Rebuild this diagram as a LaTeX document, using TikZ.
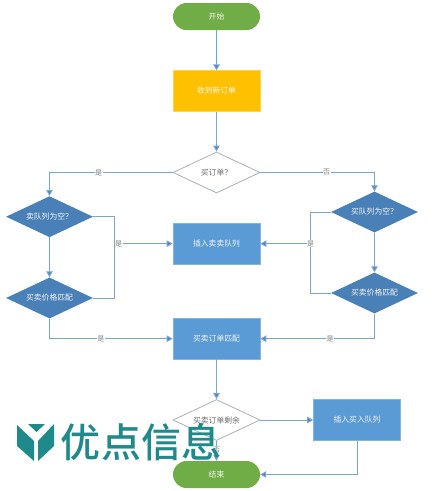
\documentclass[tikz,border=0pt]{standalone}
\usepackage{fontspec}
\setmainfont{Noto Sans CJK SC}
\newfontfamily\wmfont{Noto Sans CJK SC Medium}
\usetikzlibrary{shapes.geometric,shapes.misc,arrows.meta}
\definecolor{linec}{HTML}{7BA5D2}
\definecolor{boxc}{HTML}{5B9BD5}
\definecolor{darkd}{HTML}{4A80B8}
\definecolor{greenc}{HTML}{70AD47}
\definecolor{yellowc}{HTML}{FFC000}
\definecolor{teal}{HTML}{1F8A8C}
\definecolor{greyl}{HTML}{A9B0B5}
\tikzset{
  x=1pt,y=-1pt,
  txt/.style={font=\fontsize{7.8}{10}\selectfont,text=white!92!gray,inner sep=0pt},
  pill/.style={txt,rounded rectangle,fill=greenc,minimum width=87pt,minimum height=27pt},
  boxn/.style={txt,rectangle,fill=boxc,draw=boxc!75!white,line width=.6pt,minimum width=87pt,minimum height=40.5pt},
  yellown/.style={boxn,fill=yellowc,draw=yellowc!70!white},
  dd/.style={txt,diamond,fill=darkd,aspect=2.12,minimum width=87pt,minimum height=41pt},
  wd/.style={txt,diamond,fill=white,draw=greyl,line width=.8pt,text=gray!85!black,aspect=2.12,minimum width=87pt,minimum height=41pt},
  conn/.style={draw=linec,line width=1pt},
  arr/.style={conn,-{Triangle[length=6pt,width=6.5pt,fill=boxc!85!black]}},
  lab/.style={font=\fontsize{7}{9}\selectfont,text=gray,fill=white,inner sep=.5pt},
  wm/.style={font=\fontsize{40}{40}\wmfont,text=teal,inner sep=0pt}
}
\begin{document}
\begin{tikzpicture}
\useasboundingbox (0,0) rectangle (442,491);
\node[pill] (start) at (216.5,16.5) {开始};
\node[yellown] (recv) at (216.5,91) {收到新订单};
\node[wd] (isbuy) at (216.5,172.5) {买订单？};
\node[dd] (l1) at (49.5,216.7) {卖队列为空？};
\node[dd] (l2) at (49.5,298) {买卖价格匹配};
\node[dd] (r1) at (374.5,212) {买队列为空？};
\node[dd] (r2) at (374.5,293) {买卖价格匹配};
\node[boxn] (ins) at (216.5,243.7) {插入卖卖队列};
\node[boxn] (match) at (216.5,338.7) {买卖订单匹配};
\node[wd] (rem) at (216.5,420) {买卖订单剩余};
\node[boxn] (insb) at (357,420) {插入买入队列};
\node[pill] (stop) at (216.5,474.5) {结束};
\coordinate (lj) at (114,243.7);
\coordinate (rj) at (310.5,243.7);
\coordinate (lt) at (114,216.7);
\coordinate (lb) at (114,298);
\coordinate (rt) at (310.5,212);
\coordinate (rb) at (310.5,293);
\draw[arr] (start) -- (recv);
\draw[arr] (recv) -- (isbuy);
\draw[arr] (isbuy.west) -| node[lab,pos=.3] {是} (l1.north);
\draw[arr] (isbuy.east) -| node[lab,pos=.29] {否} (r1.north);
\draw[arr] (l1) -- (l2);
\draw[arr] (r1) -- (r2);
\draw[conn] (l1.east) -- (lt) -- (lb) -- (l2.east);
\draw[conn] (r1.west) -- (rt) -- (rb) -- (r2.west);
\draw[arr] (lj) -- node[lab,pos=.08] {是} (ins.west);
\draw[arr] (rj) -- (ins.east);
\node[lab] at (rj) {是};
\draw[arr] (l2.south) |- node[lab,pos=.709] {是} (match.west);
\draw[arr] (r2.south) |- node[lab,pos=.694] {是} (match.east);
\draw[arr] (match) -- (rem);
\draw[arr] (rem) -- (insb);
\draw[arr] (rem) -- node[lab,pos=.45] {否} (stop);
\draw[arr] (insb.south) |- (stop.east);
\fill[teal] (17,425) -- (34,441) -- (34,461) -- (17,446) -- cycle;
\fill[teal] (54,424) -- (38,441) -- (38,461) -- (54,446) -- cycle;
\fill[teal] (28,424) -- (45,424) -- (36.5,432) -- cycle;
\node[wm] (w1) at (80,442) {优};
\node[wm] (w2) at (121,442) {点};
\node[wm] (w3) at (161,442) {信};
\node[wm] (w4) at (201,442) {息};
\end{tikzpicture}
\end{document}
